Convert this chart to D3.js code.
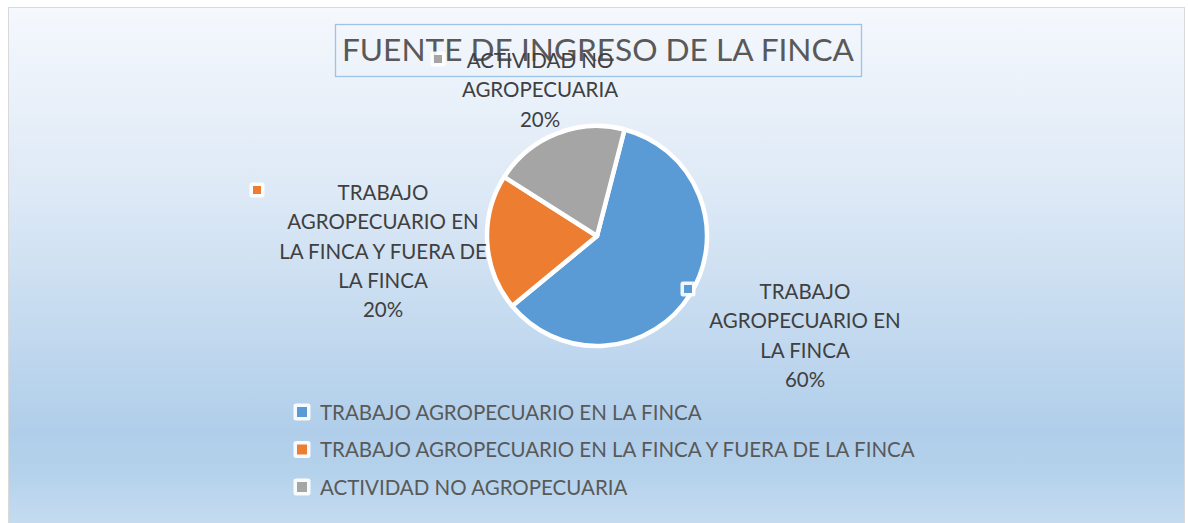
<!DOCTYPE html>
<html>
<head>
<meta charset="utf-8">
<script src="https://cdn.jsdelivr.net/npm/d3@7"></script>
<style>
  html, body { margin: 0; padding: 0; background: #fff; }
  svg { display: block; font-family: Lato, "Open Sans", sans-serif; }
</style>
</head>
<body>
<svg id="chart" width="1188" height="523"></svg>
<script>
// Chart data
const categories = [
  "TRABAJO AGROPECUARIO EN LA FINCA",
  "TRABAJO AGROPECUARIO EN LA FINCA Y FUERA DE LA FINCA",
  "ACTIVIDAD NO AGROPECUARIA"
];
const shares = [60, 20, 20];
const colors = ["#5b9bd5", "#ed7d31", "#a5a5a5"];
// data label text, broken the way the chart wraps it
const labelLines = [
  ["TRABAJO", "AGROPECUARIO EN", "LA FINCA"],
  ["TRABAJO", "AGROPECUARIO EN", "LA FINCA Y FUERA DE", "LA FINCA"],
  ["ACTIVIDAD NO", "AGROPECUARIA"]
];
const title = "FUENTE DE INGRESO DE LA FINCA";

(function() {
  const svg = d3.select('#chart');
  const width = +svg.attr('width');

  // background gradient of the chart area
  const defs = svg.append('defs');
  const grad = defs.append('linearGradient').attr('id', 'bg').attr('x1', 0).attr('y1', 0).attr('x2', 0).attr('y2', 1);
  [[0, '#f5f8fd'], [0.35, '#dde9f6'], [0.8, '#b0ceea'], [0.88, '#b5d2ec'], [1, '#c9def1']].forEach(function(s) {
    grad.append('stop').attr('offset', s[0]).attr('stop-color', s[1]);
  });

  svg.append('rect').attr('x', 8.5).attr('y', 7.5).attr('width', width - 12).attr('height', 530)
    .attr('fill', 'url(#bg)').attr('stroke', '#d9d9d9').attr('stroke-width', 1);

  // title with its box
  const titleG = svg.append('g');
  titleG.append('rect').attr('x', 335.5).attr('y', 24.5).attr('width', 526).attr('height', 52)
    .attr('fill', 'none').attr('stroke', '#9dc3e6').attr('stroke-width', 1.3);
  titleG.append('text').attr('x', 598).attr('y', 61).attr('text-anchor', 'middle')
    .attr('font-size', 31).attr('fill', '#595959').attr('textLength', 512).attr('lengthAdjust', 'spacingAndGlyphs')
    .text(title);

  // pie
  const cx = 597, cy = 236, radius = 110;
  const startAngle = 14.5 * Math.PI / 180;
  const pie = d3.pie().sort(null).startAngle(startAngle).endAngle(startAngle + 2 * Math.PI);
  const arc = d3.arc().innerRadius(0).outerRadius(radius);
  const arcs = pie(shares);

  const pieG = svg.append('g').attr('transform', `translate(${cx},${cy})`);
  pieG.selectAll('path').data(arcs).enter().append('path')
    .attr('d', arc)
    .attr('fill', (d, i) => colors[i])
    .attr('stroke', '#fff').attr('stroke-width', 4.5).attr('stroke-linejoin', 'round');

  // data labels (placed where the chart puts them)
  const labelPos = [
    { x: 805, y: 299, key: [688, 289] },
    { x: 383, y: 200, key: [257, 190] },
    { x: 540, y: 68, key: [438, 59] }
  ];
  const lineH = 29.3;
  const labelsG = svg.append('g');
  arcs.forEach(function(a, i) {
    const p = labelPos[i];
    const lines = labelLines[i].concat([Math.round(a.data) + '%']);
    const t = labelsG.append('text').attr('text-anchor', 'middle')
      .attr('font-size', 20.5).attr('fill', '#404040');
    lines.forEach(function(l, j) {
      t.append('tspan').attr('x', p.x).attr('y', p.y + j * lineH).text(l);
    });
    drawKey(labelsG, p.key[0], p.key[1], colors[i], 15, 8);
  });

  // legend
  const legendG = svg.append('g').attr('transform', 'translate(302,412)');
  const items = legendG.selectAll('g').data(categories).enter().append('g')
    .attr('transform', (d, i) => `translate(0,${i * 37.5})`);
  items.each(function(d, i) { drawKey(d3.select(this), 0, 0, colors[i], 17, 10); });
  items.append('text').attr('x', 18).attr('y', 7.5).attr('font-size', 20.5).attr('fill', '#595959').text(d => d);

  function drawKey(g, x, y, color, outer, inner) {
    g.append('rect').attr('x', x - outer / 2).attr('y', y - outer / 2).attr('width', outer).attr('height', outer)
      .attr('rx', 2.5).attr('fill', '#fff').attr('opacity', 0.9);
    g.append('rect').attr('x', x - inner / 2).attr('y', y - inner / 2).attr('width', inner).attr('height', inner)
      .attr('fill', color);
  }
})();
</script>
</body>
</html>
